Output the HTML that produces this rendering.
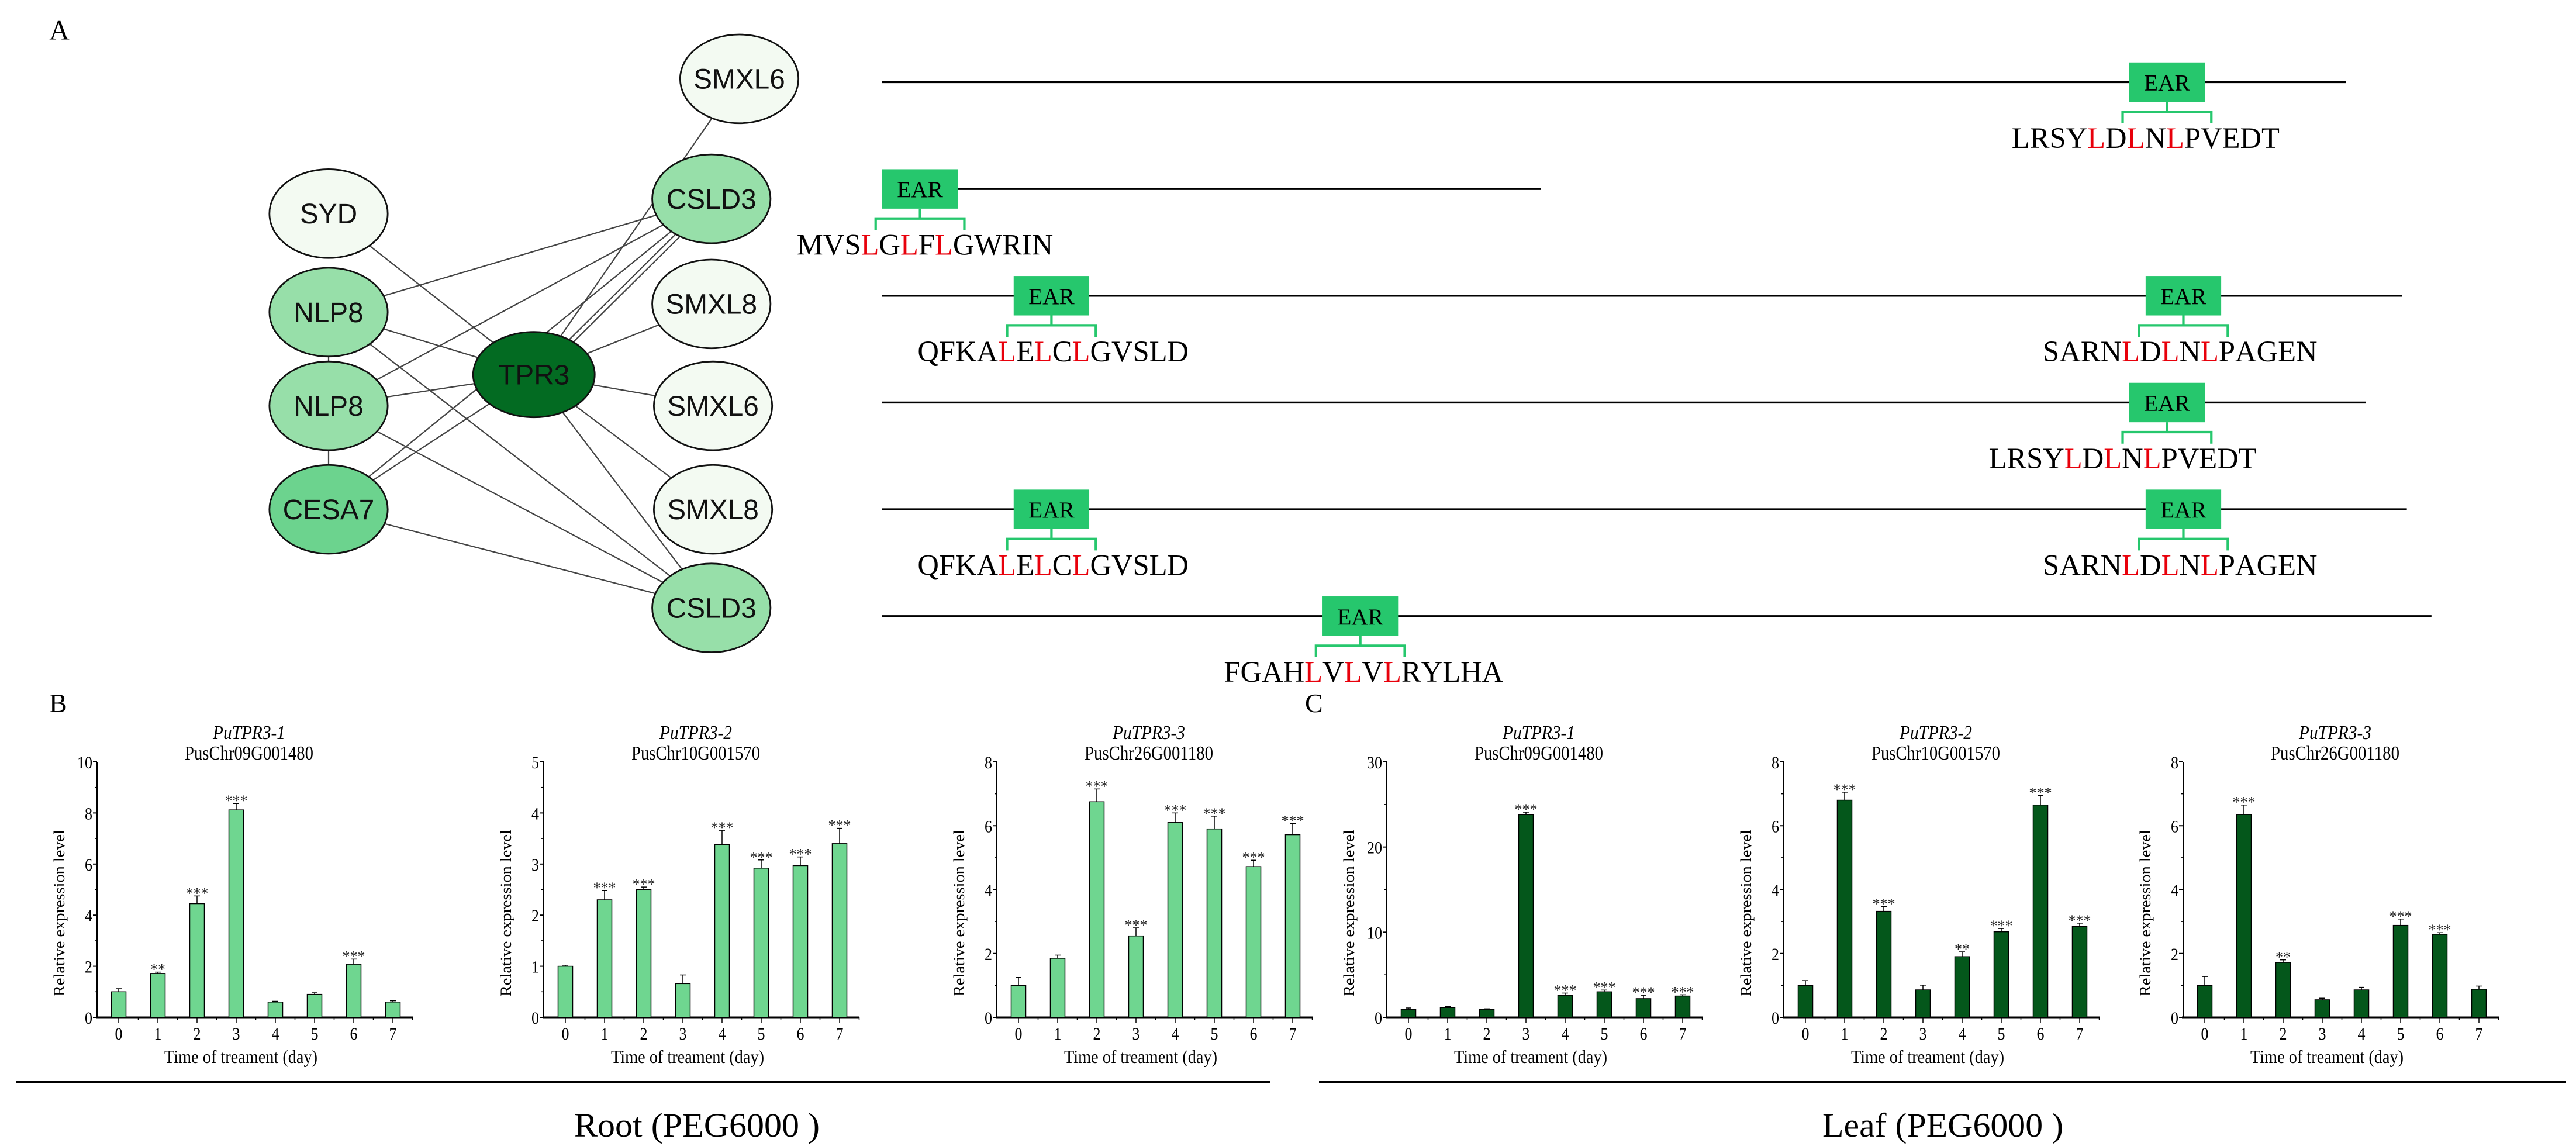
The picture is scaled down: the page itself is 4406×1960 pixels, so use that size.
<!DOCTYPE html>
<html><head><meta charset="utf-8"><style>
html,body{margin:0;padding:0;background:#fff}
svg{display:block}
text{font-family:"Liberation Serif",serif}
.sans{font-family:"Liberation Sans",sans-serif}
</style></head><body>
<svg id="fig" width="4406" height="1960" viewBox="0 0 4406 1960" xmlns="http://www.w3.org/2000/svg">
<rect width="4406" height="1960" fill="#fff"/>
<g id="top" transform="scale(2.81)">
  <text x="30" y="24" font-size="17">A</text>
  <g id="edges" stroke="#444" stroke-width="0.8"></g>
  <g id="nodes"></g>
  <g id="proteins"></g>
</g>
<g id="charts"></g>
<text x="84" y="1218" font-size="46">B</text>
<text x="2232" y="1218" font-size="46">C</text>
<line x1="28" y1="1850" x2="2172" y2="1850" stroke="#000" stroke-width="4"/>
<line x1="2256" y1="1850" x2="4389" y2="1850" stroke="#000" stroke-width="4"/>
<text x="1192" y="1944" font-size="58" text-anchor="middle" textLength="420" lengthAdjust="spacingAndGlyphs">Root (PEG6000 )</text>
<text x="3323" y="1944" font-size="58" text-anchor="middle" textLength="412" lengthAdjust="spacingAndGlyphs">Leaf (PEG6000 )</text>
</svg>
<script>
const NS="http://www.w3.org/2000/svg";
function mk(tag,attrs,parent,txt){const e=document.createElementNS(NS,tag);for(const k in attrs)e.setAttribute(k,attrs[k]);if(txt!==undefined)e.textContent=txt;parent.appendChild(e);return e;}

// ---- network ----
const nodeNames=["SMXL6","SYD","CSLD3","NLP8","SMXL8","TPR3","NLP8","SMXL6","CESA7","SMXL8","CSLD3"];
const nodeX=[450,200,433,200,433,325,200,434,200,434,433];
const nodeY=[48,130,121,190,185,228,247,247,310,310,370];
const nodeFill=["#f3faf2","#f3faf2","#97dfa9","#97dfa9","#f3faf2","#036b22","#97dfa9","#f3faf2","#6cd38e","#f3faf2","#97dfa9"];
const edgeFrom=[1,3,3,3,3,6,6,6,6,8,8,8,5,5,5,5,5,5,5];
const edgeTo  =[5,2,5,10,6,2,5,10,8,2,5,10,0,2,4,7,9,10,2];
const eg=document.getElementById('edges'),ng=document.getElementById('nodes');
edgeFrom.forEach((f,i)=>{const t=edgeTo[i];const off=(i===18)?4:0;
 const l=mk('line',{x1:nodeX[f]+off,y1:nodeY[f],x2:nodeX[t]+off,y2:nodeY[t]},eg);
 
 });
nodeNames.forEach((n,i)=>{const g=mk('g',{},ng);
 
 
 mk('ellipse',{cx:nodeX[i],cy:nodeY[i],rx:i===5?37:36,ry:i===5?26:27,fill:nodeFill[i],stroke:"#111","stroke-width":1},g);
 mk('text',{x:nodeX[i],y:nodeY[i]+6,"font-size":17,"text-anchor":"middle",class:"sans",fill:"#111"},g,n);});

// ---- proteins ----
const protY=[50,115,180,245,310,375];
const protX1=[537,583,537,537,537,537];
const protX2=[1428,938,1462,1440,1465,1480];
const earX=[[1319],[560],[640,1329],[1319],[640,1329],[828]];
const seqs=[["LRSYLDLNLPVEDT"],["MVSLGLFLGWRIN"],["QFKALELCLGVSLD","SARNLDLNLPAGEN"],["LRSYLDLNLPVEDT"],["QFKALELCLGVSLD","SARNLDLNLPAGEN"],["FGAHLVLVLRYLHA"]];
const seqRed=[[[4,6,8]],[[3,5,7]],[[4,6,8],[4,6,8]],[[4,6,8]],[[4,6,8],[4,6,8]],[[4,6,8]]];
const seqCx=[[1306],[563],[641,1327],[1292],[641,1327],[830]];
const pg=document.getElementById('proteins');
protY.forEach((y,i)=>{
 const l=mk('line',{x1:protX1[i]-(i===1?46:0),y1:y,x2:protX2[i],y2:y,stroke:"#000","stroke-width":1.2},pg);
 
 
 earX[i].forEach((cx,j)=>{
  const g=mk('g',{},pg);
  
  
  mk('rect',{x:cx-23,y:y-12,width:46,height:24,fill:"#26c76d"},g);
  mk('text',{x:cx,y:y+5,"font-size":14,"text-anchor":"middle"},g,"EAR");
  mk('path',{d:`M${cx} ${y+12}V${y+18}M${cx-27} ${y+25}V${y+18}H${cx+27}V${y+25}`,stroke:"#26c76d","stroke-width":1.5,fill:"none"},g);
  const t=mk('text',{x:seqCx[i][j],y:y+40,"font-size":18,"text-anchor":"middle"},g);
  
  
  const s=seqs[i][j],r=seqRed[i][j];
  for(let k=0;k<s.length;k++){mk('tspan',{fill:(r.includes(k)&&s[k]==='L')?"#e8000b":"#000"},t,s[k]);}
 });
});

// ---- bar charts ----
const days=["0","1","2","3","4","5","6","7"];
const titles=["PuTPR3-1","PuTPR3-2","PuTPR3-3","PuTPR3-1","PuTPR3-2","PuTPR3-3"];
const genes=["PusChr09G001480","PusChr10G001570","PusChr26G001180","PusChr09G001480","PusChr10G001570","PusChr26G001180"];
const yMax=[10,5,8,30,8,8];
const yTicks=[[0,2,4,6,8,10],[0,1,2,3,4,5],[0,2,4,6,8],[0,10,20,30],[0,2,4,6,8],[0,2,4,6,8]];
const vals1=[1.0,1.72,4.45,8.12,0.6,0.9,2.08,0.6];
const err1=[0.12,0.05,0.3,0.25,0.03,0.06,0.2,0.05];
const sig1=["","**","***","***","","","***",""];
const vals2=[1.0,2.3,2.5,0.66,3.38,2.92,2.97,3.4];
const err2=[0.02,0.18,0.05,0.17,0.28,0.16,0.17,0.3];
const sig2=["","***","***","","***","***","***","***"];
const vals3=[1.0,1.85,6.75,2.55,6.1,5.9,4.72,5.72];
const err3=[0.25,0.1,0.4,0.25,0.3,0.4,0.2,0.35];
const sig3=["","","***","***","***","***","***","***"];
const vals4=[0.95,1.15,0.95,23.8,2.6,3.0,2.2,2.5];
const err4=[0.15,0.1,0.05,0.3,0.25,0.2,0.4,0.15];
const sig4=["","","","***","***","***","***","***"];
const vals5=[1.0,6.8,3.32,0.86,1.9,2.68,6.65,2.85];
const err5=[0.15,0.25,0.15,0.15,0.15,0.1,0.3,0.1];
const sig5=["","***","***","","**","***","***","***"];
const vals6=[1.0,6.35,1.72,0.55,0.86,2.88,2.6,0.88];
const err6=[0.28,0.3,0.08,0.05,0.08,0.2,0.05,0.1];
const sig6=["","***","**","","","***","***",""];
const allVals=[vals1,vals2,vals3,vals4,vals5,vals6];
const allErr=[err1,err2,err3,err4,err5,err6];
const allSig=[sig1,sig2,sig3,sig4,sig5,sig6];
const axisLeft=[166,930,1705,2372,3051,3734];
const fills=["#6fd690","#6fd690","#6fd690","#04571b","#04571b","#04571b"];
const cg=document.getElementById('charts');
const yTop=1303,yBot=1740,step=67,bw=25,axW=540;
allVals.forEach((vals,c)=>{
 const g=mk('g',{},cg);
 
 
 const L=axisLeft[c];
 const ys=v=>yBot-(v/yMax[c])*(yBot-yTop);
 const xs=i=>L+37+i*step;
 const cx=L+(axW)/2-10;
 const t1=mk('text',{x:cx,y:1264,"font-size":34,"font-style":"italic","text-anchor":"middle",textLength:"124",lengthAdjust:"spacingAndGlyphs"},g,titles[c]);
 
 const t2=mk('text',{x:cx,y:1299,"font-size":34,"text-anchor":"middle",textLength:"220",lengthAdjust:"spacingAndGlyphs"},g,genes[c]);
 
 mk('line',{x1:L,y1:yTop,x2:L,y2:yBot,stroke:"#000","stroke-width":2},g);
 mk('line',{x1:L-2,y1:yBot,x2:L+axW,y2:yBot,stroke:"#000","stroke-width":3},g);
 yTicks[c].forEach((tv,k)=>{const y=ys(tv);
  mk('line',{x1:L-7,y1:y,x2:L,y2:y,stroke:"#000","stroke-width":2},g);
  if(k<yTicks[c].length-1){const ym=ys((tv+yTicks[c][k+1])/2);mk('line',{x1:L-4,y1:ym,x2:L,y2:ym,stroke:"#000","stroke-width":1.5},g);}
  const tl=mk('text',{x:L-8,y:y+11,"font-size":30,"text-anchor":"end",textLength:String(tv).length*13,lengthAdjust:"spacingAndGlyphs"},g,String(tv));
  });
 const yt=mk('text',{x:0,y:0,"font-size":26,"text-anchor":"middle",textLength:"285",lengthAdjust:"spacingAndGlyphs",transform:`translate(${L-56},${(yTop+yBot)/2+40}) rotate(-90)`},g,"Relative expression level");
 
 const xt=mk('text',{x:cx-14,y:1818,"font-size":32,"text-anchor":"middle",textLength:"262",lengthAdjust:"spacingAndGlyphs"},g,"Time of treament (day)");
 
 vals.forEach((v,i)=>{const x=xs(i),y=ys(v),ye=ys(v+allErr[c][i]);
  mk('line',{x1:x,y1:yBot,x2:x,y2:yBot+9,stroke:"#000","stroke-width":1.5},g);
  mk('line',{x1:x+step/2,y1:yBot,x2:x+step/2,y2:yBot+5,stroke:"#000","stroke-width":1.5},g);
  const tl=mk('text',{x:x,y:1778,"font-size":30,"text-anchor":"middle",textLength:"13",lengthAdjust:"spacingAndGlyphs"},g,days[i]);
  
  const b=mk('rect',{x:x-bw/2,y:y,width:bw,height:yBot-y,fill:fills[c],stroke:"#000","stroke-width":1.5},g);
  
  mk('path',{d:`M${x} ${y}V${ye}M${x-5} ${ye}H${x+5}`,stroke:"#000","stroke-width":1.5,fill:"none"},g);
  if(allSig[c][i]){const s=mk('text',{x:x,y:ye+4,"font-size":26,"text-anchor":"middle",fill:"#222"},g,allSig[c][i]);
   }
 });
});
</script>
</body></html>
